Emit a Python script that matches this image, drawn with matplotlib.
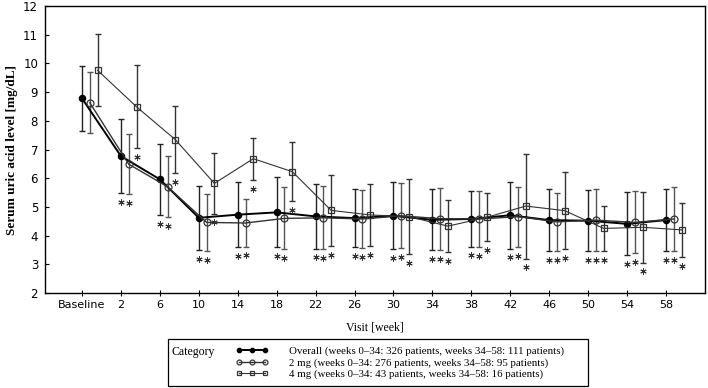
import numpy as np
import matplotlib
matplotlib.use("Agg")
import matplotlib.pyplot as plt

visits = ["Baseline", "2", "6", "10", "14", "18", "22", "26", "30",
          "34", "38", "42", "46", "50", "54", "58"]

overall_mean = [8.78, 6.77, 5.96, 4.62, 4.73, 4.81, 4.67, 4.61,
                4.69, 4.55, 4.58, 4.71, 4.54, 4.52, 4.41, 4.54]
overall_sd = [1.13, 1.30, 1.24, 1.11, 1.13, 1.22, 1.12, 1.01,
              1.17, 1.06, 0.96, 1.16, 1.07, 1.07, 1.10, 1.09]

mg2_mean = [8.63, 6.49, 5.70, 4.46, 4.44, 4.60, 4.62, 4.58,
            4.69, 4.59, 4.58, 4.66, 4.48, 4.54, 4.46, 4.58]
mg2_sd = [1.06, 1.04, 1.06, 1.00, 0.82, 1.08, 1.10, 1.01,
          1.13, 1.08, 0.98, 1.05, 1.02, 1.09, 1.08, 1.11]

mg4_mean = [9.76, 8.49, 7.34, 5.82, 6.68, 6.23, 4.88, 4.72,
            4.66, 4.33, 4.64, 5.03, 4.87, 4.25, 4.29, 4.20]
mg4_sd = [1.26, 1.45, 1.17, 1.05, 0.73, 1.02, 1.23, 1.08,
          1.30, 0.90, 0.84, 1.83, 1.33, 0.78, 1.23, 0.95]

labels = ["Overall (weeks 0\u201334: 326 patients, weeks 34\u201358: 111 patients)",
          "2 mg (weeks 0\u201334: 276 patients, weeks 34\u201358: 95 patients)",
          "4 mg (weeks 0\u201334: 43 patients, weeks 34\u201358: 16 patients)"]

fig = plt.figure(figsize=(7.08, 3.88), dpi=100)
ax = fig.add_axes([0.0636, 0.2448, 0.932, 0.7397])

x = np.arange(len(visits))
series = [
    (overall_mean, overall_sd, 0.0, dict(marker="o", ms=4.5, mfc="black", mec="black",
                                         color="black", lw=1.4), "#222222"),
    (mg2_mean, mg2_sd, 0.2, dict(marker="o", ms=5, mfc="none", mec="#333333",
                                 color="#333333", lw=1.0), "#555555"),
    (mg4_mean, mg4_sd, 0.4, dict(marker="s", ms=5, mfc="none", mec="#333333",
                                 color="#333333", lw=0.8), "#333333"),
]

handles = []
for mean, sd, off, style, ecol in series:
    mean = np.array(mean)
    sd = np.array(sd)
    xs = x + off
    ax.errorbar(xs, mean, yerr=sd, fmt="none", ecolor=ecol, elinewidth=1.0,
                capsize=2.5, capthick=1.0, zorder=2)
    h, = ax.plot(xs, mean, zorder=3, mew=0.9, **style)
    handles.append(h)
    # significance asterisks below each lower whisker (all visits after baseline)
    ax.plot(xs[1:], (mean - sd)[1:] - 0.31, ls="none", marker=(6, 2, 0),
            ms=4.5, mew=0.7, color="#333333", zorder=3)

ax.set_xlim(-0.95, 16.0)
ax.set_ylim(2, 12)
ax.set_xticks(x)
ax.set_xticklabels(visits)
ax.set_yticks(range(2, 13))
ax.tick_params(axis="x", direction="inout", length=4, width=0.8, labelsize=8, pad=3)
ax.tick_params(axis="y", direction="in", length=3, width=0.8, labelsize=8.5, pad=5)
for s in ax.spines.values():
    s.set_linewidth(1.0)

ax.set_ylabel("Serum uric acid level [mg/dL]", fontfamily="Liberation Serif",
              fontweight="bold", fontsize=9.5)
ax.yaxis.set_label_coords(-0.041, 0.5)
ax.set_xlabel("Visit [week]", fontfamily="Liberation Serif", fontsize=8.5, labelpad=8)

# legend box below the plot
box = plt.Rectangle((168 / 708, 1 - 386 / 388), 420 / 708, 47 / 388,
                    transform=fig.transFigure, fill=False, lw=0.9, ec="black")
fig.patches.append(box)
fig.text(171 / 708, 1 - 352 / 388, "Category", fontfamily="Liberation Serif",
         fontsize=8.5, va="center", ha="left")
leg = fig.legend(handles, labels, loc="upper left",
                 bbox_to_anchor=(228 / 708, 1 - 339 / 388), frameon=False,
                 prop={"family": "Liberation Serif", "size": 7.8},
                 handlelength=3.0, handletextpad=1.9, labelspacing=0.12,
                 numpoints=3, borderpad=0.2, markerscale=0.7)

fig.savefig("out.png", dpi=100)
